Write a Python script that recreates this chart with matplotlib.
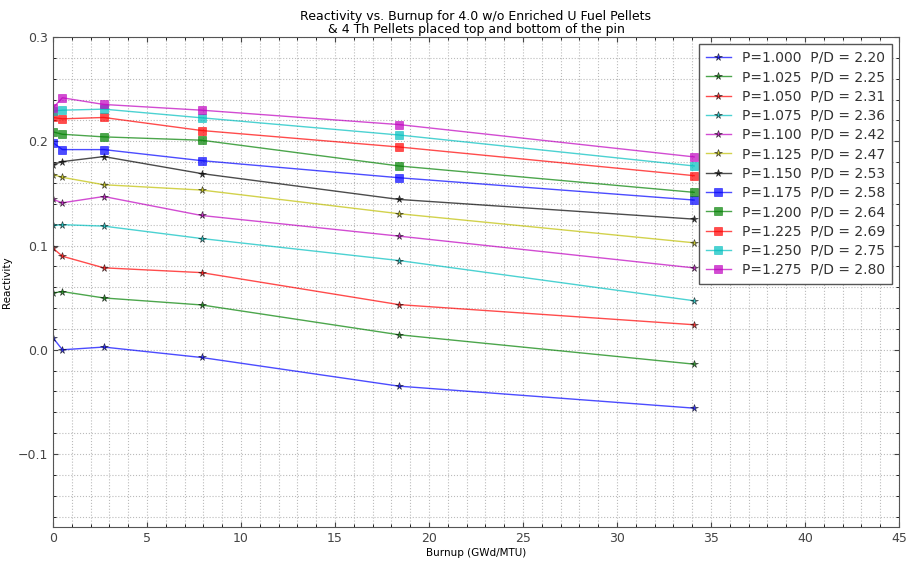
import matplotlib
matplotlib.use('Agg')
import matplotlib.pyplot as plt
from matplotlib.ticker import MultipleLocator

# Burnup steps (GWd/MTU)
burnup = [0.0, 0.5, 2.7, 7.9, 18.4, 34.1]

pitch = ['1.000', '1.025', '1.050', '1.075', '1.100', '1.125',
         '1.150', '1.175', '1.200', '1.225', '1.250', '1.275']
p_over_d = ['2.20', '2.25', '2.31', '2.36', '2.42', '2.47',
            '2.53', '2.58', '2.64', '2.69', '2.75', '2.80']

# reactivity, one list per pitch
rho_1000 = [0.0115, 0.0000, 0.0026, -0.0074, -0.0349, -0.0560]
rho_1025 = [0.0545, 0.0558, 0.0497, 0.0430, 0.0144, -0.0138]
rho_1050 = [0.0974, 0.0897, 0.0786, 0.0740, 0.0433, 0.0240]
rho_1075 = [0.1192, 0.1200, 0.1186, 0.1067, 0.0856, 0.0470]
rho_1100 = [0.1442, 0.1410, 0.1470, 0.1288, 0.1090, 0.0785]
rho_1125 = [0.1680, 0.1654, 0.1583, 0.1532, 0.1305, 0.1026]
rho_1150 = [0.1776, 0.1805, 0.1853, 0.1690, 0.1442, 0.1253]
rho_1175 = [0.1987, 0.1920, 0.1920, 0.1814, 0.1650, 0.1436]
rho_1200 = [0.2090, 0.2067, 0.2042, 0.2010, 0.1763, 0.1510]
rho_1225 = [0.2228, 0.2215, 0.2228, 0.2103, 0.1945, 0.1670]
rho_1250 = [0.2290, 0.2298, 0.2308, 0.2225, 0.2060, 0.1763]
rho_1275 = [0.2320, 0.2417, 0.2353, 0.2298, 0.2160, 0.1850]

series = [rho_1000, rho_1025, rho_1050, rho_1075, rho_1100, rho_1125,
          rho_1150, rho_1175, rho_1200, rho_1225, rho_1250, rho_1275]

colors = ['#0000ff', '#008000', '#ff0000', '#00bfbf', '#bf00bf', '#bfbf00',
          '#000000', '#0000ff', '#008000', '#ff0000', '#00bfbf', '#bf00bf']

plt.rcParams.update({
    'font.family': 'DejaVu Sans',
    'xtick.direction': 'in',
    'ytick.direction': 'in',
    'xtick.top': True,
    'ytick.right': True,
})

fig = plt.figure(figsize=(9.09, 5.64), dpi=100)
ax = fig.add_axes([0.0583, 0.0656, 0.9307, 0.8688])

for i, (vals, c) in enumerate(zip(series, colors)):
    label = f'P={pitch[i]}  P/D = {p_over_d[i]}'
    if i < 7:
        ax.plot(burnup, vals, color=c, lw=1.0, alpha=0.7, marker='*',
                ms=5.5, mfc=c, mec='k', mew=0.5, label=label)
    else:
        ax.plot(burnup, vals, color=c, lw=1.0, alpha=0.7, marker='s',
                ms=6, mfc=c, mec=c, mew=0.5, label=label)

ax.set_xlim(0, 45)
ax.set_ylim(-0.17, 0.3)
ax.xaxis.set_major_locator(MultipleLocator(5))
ax.xaxis.set_minor_locator(MultipleLocator(1))
ax.yaxis.set_major_locator(MultipleLocator(0.1))
ax.yaxis.set_minor_locator(MultipleLocator(0.02))
ax.grid(which='both', color='#bbbbbb', linestyle=':', linewidth=0.8)
ax.tick_params(labelsize=9, colors='#444444')
for s in ax.spines.values():
    s.set_color('#555555')

ax.set_title('Reactivity vs. Burnup for 4.0 w/o Enriched U Fuel Pellets\n'
             '& 4 Th Pellets placed top and bottom of the pin',
             fontsize=9, linespacing=0.95, pad=3)
ax.set_xlabel('Burnup (GWd/MTU)', fontsize=7.5, labelpad=2)
ax.set_ylabel('Reactivity', fontsize=7.5, labelpad=4)

leg = ax.legend(loc='upper right', fontsize=10, fancybox=False,
                borderaxespad=0.5, handlelength=1.8, labelspacing=0.38,
                handletextpad=0.8, borderpad=0.5, framealpha=1)
leg.get_frame().set_edgecolor('#555555')
for t in leg.get_texts():
    t.set_color('#333333')

fig.savefig('out.png', dpi=100)
